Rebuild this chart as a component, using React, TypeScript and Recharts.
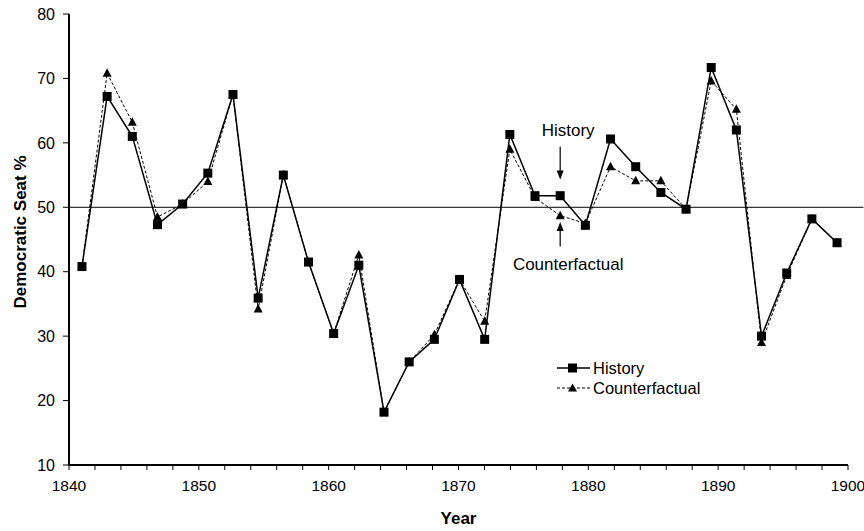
import React from 'react';
import { LineChart, Line, XAxis, YAxis, ReferenceLine } from 'recharts';

const years = [
  1840, 1842, 1844, 1846, 1848, 1850, 1852, 1854, 1856, 1858, 1860,
  1862, 1864, 1866, 1868, 1870, 1872, 1874, 1876, 1878, 1880,
  1882, 1884, 1886, 1888, 1890, 1892, 1894, 1896, 1898, 1900,
];
const history = [
  40.8, 67.2, 61, 47.3, 50.5, 55.3, 67.5, 35.9, 55, 41.5, 30.4,
  41, 18.2, 26, 29.5, 38.8, 29.5, 61.3, 51.8, 51.8, 47.2,
  60.6, 56.3, 52.3, 49.7, 71.7, 62, 30, 39.8, 48.2, 44.5,
];
const counterfactual = [
  40.8, 70.8, 63.2, 48.5, 50.5, 54, 67.5, 34.2, 55, 41.5, 30.4,
  42.6, 18.2, 26, 30.2, 38.8, 32.3, 59, 51.5, 48.7, 47.5,
  56.3, 54.1, 54.1, 49.7, 69.6, 65.2, 29, 39.4, 48.2, 44.5,
];
const yearTicks = [
  1840, 1842, 1844, 1846, 1848, 1850, 1852, 1854, 1856, 1858, 1860,
  1862, 1864, 1866, 1868, 1870, 1872, 1874, 1876, 1878, 1880,
  1882, 1884, 1886, 1888, 1890, 1892, 1894, 1896, 1898, 1900,
];
const seatTicks = [10, 20, 30, 40, 50, 60, 70, 80];

const data = years.map((year, i) => ({
  year,
  history: history[i],
  counterfactual: counterfactual[i],
}));

const FONT = '"Liberation Sans", Arial, Helvetica, sans-serif';

const Square = (props: any) => {
  const { cx, cy } = props;
  if (cx == null || cy == null) return null;
  return <rect x={cx - 4.5} y={cy - 4.5} width={9} height={9} fill="#000" />;
};

const Triangle = (props: any) => {
  const { cx, cy } = props;
  if (cx == null || cy == null) return null;
  return <path d={`M${cx},${cy - 5} L${cx + 4.5},${cy + 3.5} L${cx - 4.5},${cy + 3.5} Z`} fill="#000" />;
};

// arrow with a text label, drawn from the reference line end points
const arrowShape = (text: string, textDy: number) => (props: any) => {
  const { x1, y1, x2, y2 } = props;
  const dir = y2 > y1 ? 1 : -1;
  return (
    <g>
      <line x1={x1} y1={y1} x2={x2} y2={y2 - dir * 6} stroke="#000" strokeWidth={1.2} />
      <path d={`M${x2},${y2} L${x2 - 3.5},${y2 - dir * 9} L${x2 + 3.5},${y2 - dir * 9} Z`} fill="#000" />
      <text x={x1 + 8} y={y1 + textDy} textAnchor="middle" fontSize={17} fontFamily={FONT} fill="#000">
        {text}
      </text>
    </g>
  );
};

const LegendBox = () => (
  <div
    style={{
      position: 'absolute', left: 557, top: 358,
      fontFamily: FONT, fontSize: 16.5, color: '#000', lineHeight: '20px',
    }}
  >
    <div style={{ display: 'flex', alignItems: 'center' }}>
      <svg width={33} height={12}>
        <line x1={0} y1={6} x2={33} y2={6} stroke="#000" strokeWidth={1.5} />
        <rect x={11} y={1.5} width={9} height={9} fill="#000" />
      </svg>
      <span style={{ marginLeft: 3 }}>History</span>
    </div>
    <div style={{ display: 'flex', alignItems: 'center' }}>
      <svg width={33} height={12}>
        <line x1={0} y1={6} x2={33} y2={6} stroke="#000" strokeWidth={1} strokeDasharray="3 2" />
        <path d="M15.5,1.5 L20,9.5 L11,9.5 Z" fill="#000" />
      </svg>
      <span style={{ marginLeft: 3 }}>Counterfactual</span>
    </div>
  </div>
);

const YLabel = () => (
  <text
    x={20}
    y={232}
    transform="rotate(-90 20 232)"
    textAnchor="middle"
    dominantBaseline="central"
    fontSize={17}
    fontWeight="bold"
    fontFamily={FONT}
    fill="#000"
  >
    Democratic Seat %
  </text>
);

export default function App() {
  return (
    <div style={{ position: 'absolute', left: 0, top: 0, width: 864, height: 531, background: '#fff' }}>
      <LineChart width={864} height={531} data={data} margin={{ top: 14, right: 16, bottom: 6, left: 0 }}>
        <XAxis
          xAxisId="year"
          dataKey="year"
          type="number"
          domain={[1840, 1900]}
          allowDataOverflow
          ticks={yearTicks}
          interval={0}
          tickFormatter={(v: number) => (v % 10 === 0 ? String(v) : '')}
          height={60}
          stroke="#000"
          strokeWidth={2}
          tickSize={5}
          tickMargin={10}
          tick={{ fill: '#000', fontSize: 15.5, fontFamily: FONT }}
          tickLine={{ stroke: '#000', strokeWidth: 1 }}
          label={{ value: 'Year', position: 'insideBottom', offset: 1, fontSize: 17, fontWeight: 'bold', fontFamily: FONT, fill: '#000' }}
        />
        <XAxis xAxisId="data" dataKey="year" type="number" domain={[1838.97, 1900.87]} height={0} hide />
        <YAxis
          type="number"
          domain={[10, 80]}
          ticks={seatTicks}
          interval={0}
          width={69}
          stroke="#000"
          strokeWidth={2}
          tickSize={6}
          tickMargin={8}
          tick={{ fill: '#000', fontSize: 16, fontFamily: FONT }}
          tickLine={{ stroke: '#000', strokeWidth: 1 }}
          label={<YLabel />}
        />
        <ReferenceLine
          xAxisId="data"
          segment={[{ x: 1838.97, y: 50 }, { x: 1902.1, y: 50 }]}
          stroke="#000"
          strokeWidth={1}
          ifOverflow="visible"
        />
        <ReferenceLine
          xAxisId="data"
          segment={[{ x: 1878, y: 59.4 }, { x: 1878, y: 54.3 }]}
          shape={arrowShape('History', -11)}
          ifOverflow="visible"
        />
        <ReferenceLine
          xAxisId="data"
          segment={[{ x: 1878, y: 43.9 }, { x: 1878, y: 47.7 }]}
          shape={arrowShape('Counterfactual', 23)}
          ifOverflow="visible"
        />
        {/* invisible series that gives the tick axis its scale */}
        <Line
          xAxisId="year"
          dataKey="history"
          stroke="none"
          dot={false}
          activeDot={false}
          legendType="none"
          isAnimationActive={false}
        />
        <Line
          xAxisId="data"
          dataKey="counterfactual"
          stroke="#000"
          strokeWidth={1}
          strokeDasharray="3 2"
          dot={<Triangle />}
          activeDot={false}
          isAnimationActive={false}
        />
        <Line
          xAxisId="data"
          dataKey="history"
          stroke="#000"
          strokeWidth={1.5}
          dot={<Square />}
          activeDot={false}
          isAnimationActive={false}
        />
      </LineChart>
      <LegendBox />
    </div>
  );
}
